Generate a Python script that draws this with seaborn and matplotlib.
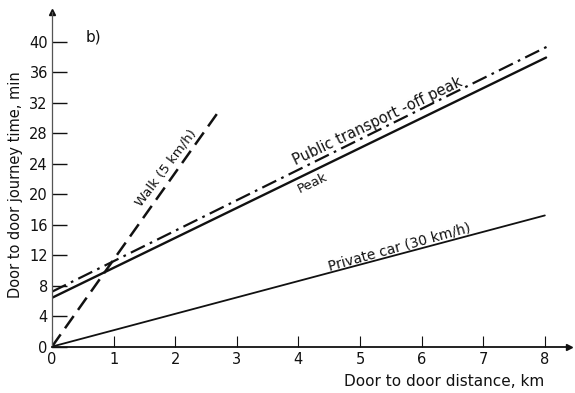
import matplotlib
matplotlib.use("Agg")
import matplotlib.pyplot as plt
import seaborn as sns

# values (distance km -> journey time min)
walk_km = [0.0, 2.72]
walk_min = [0.0, 31.0]
peak_km = [0.0, 8.02]
peak_min = [6.4, 37.9]
offpeak_km = [0.0, 8.08]
offpeak_min = [7.2, 39.5]
car_km = [0.0, 8.0]
car_min = [0.0, 17.2]

x_ticks = list(range(0, 9))
y_ticks = list(range(0, 41, 4))

sns.set_theme(style="white")
plt.rcParams['font.family'] = ['DejaVu Sans']

fig = plt.figure(figsize=(5.75, 3.93), dpi=100)
ax = fig.add_axes([0.0904, 0.118, 0.9, 0.852])

ink = '#111111'
sns.lineplot(x=walk_km, y=walk_min, ax=ax, color=ink, lw=1.8)
ax.lines[-1].set_dashes([6, 3])
sns.lineplot(x=peak_km, y=peak_min, ax=ax, color=ink, lw=1.7)
sns.lineplot(x=offpeak_km, y=offpeak_min, ax=ax, color=ink, lw=1.6)
ax.lines[-1].set_dashes([7, 2.5, 1.2, 2.5])
sns.lineplot(x=car_km, y=car_min, ax=ax, color=ink, lw=1.3)

ax.set_xlim(0, 8.4)
ax.set_ylim(0, 43.9)
ax.set_xticks(x_ticks)
ax.set_yticks(y_ticks)
ax.tick_params(axis='y', direction='in', length=11, width=1.0, pad=3,
               labelsize=10.5, colors=ink, left=True)
ax.tick_params(axis='x', direction='in', length=8, width=0.8, pad=4,
               labelsize=10.5, colors=ink, bottom=True)

sns.despine(ax=ax, top=True, right=True)
ax.spines['left'].set_color('#555555')
ax.spines['left'].set_linewidth(0.9)
ax.spines['bottom'].set_color(ink)
ax.spines['bottom'].set_linewidth(1.3)

# arrow heads on axes
ax.plot(1, 0, '>', color=ink, ms=4, transform=ax.get_yaxis_transform(), clip_on=False)
ax.plot(0, 1, '^', color=ink, ms=4, transform=ax.get_xaxis_transform(), clip_on=False)

ax.set_ylabel('Door to door journey time, min', fontsize=10.5, color=ink)
ax.yaxis.set_label_coords(-0.056, 0.483)
ax.set_xlabel('Door to door distance, km', fontsize=11, color=ink, ha='right', va='center')
ax.xaxis.set_label_coords(0.952, -0.105)

ax.text(0.55, 40.6, 'b)', fontsize=11, color=ink, va='center')
ax.text(1.85, 23.45, 'Walk (5 km/h)', rotation=53, fontsize=9.5, color=ink,
        ha='center', va='center', rotation_mode='anchor')
ax.text(5.28, 29.6, 'Public transport -off peak', rotation=25.5, fontsize=10.5,
        color=ink, ha='center', va='center', rotation_mode='anchor')
ax.text(4.23, 21.5, 'Peak', rotation=25.5, fontsize=9.5, color=ink,
        ha='center', va='center', rotation_mode='anchor')
ax.text(5.64, 13.0, 'Private car (30 km/h)', rotation=15.5, fontsize=10,
        color=ink, ha='center', va='center', rotation_mode='anchor')

fig.savefig('out.png', dpi=100)
